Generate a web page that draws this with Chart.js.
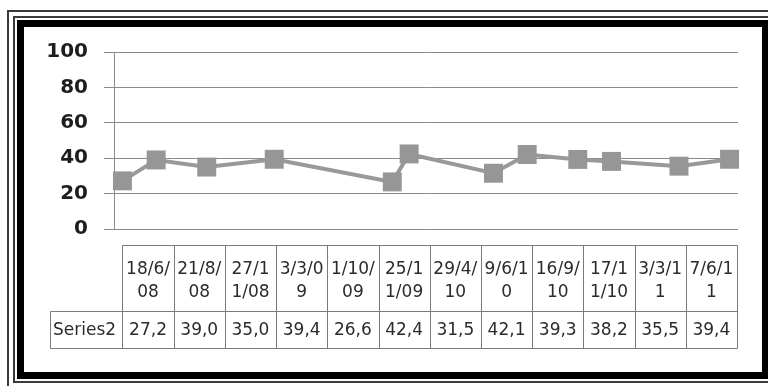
<!DOCTYPE html>
<html><head><meta charset="utf-8">
<script src="https://cdn.jsdelivr.net/npm/chart.js@4/dist/chart.umd.min.js"></script>
<style>
html,body{margin:0;padding:0;background:#fff;width:768px;height:386px;overflow:hidden;position:relative}
.f{position:absolute;box-sizing:border-box}
#a{left:7px;top:10px;right:-20px;bottom:-20px;border:2px solid #3a3a3a}
#b{left:13px;top:16px;right:-20px;bottom:3px;border:2px solid #3a3a3a}
#c{left:17px;top:20px;right:0;bottom:7px;border:7px solid #000;border-right-width:6px;background:#fff}
canvas{position:absolute;left:0;top:0}
</style></head><body>
<div class="f" id="a"></div><div class="f" id="b"></div><div class="f" id="c"></div>
<canvas id="ch" width="768" height="386"></canvas>
<script>
const dateLabels = ['18/6/08','21/8/08','27/11/08','3/3/09','1/10/09','25/11/09','29/4/10','9/6/10','16/9/10','17/11/10','3/3/11','7/6/11'];
const seriesName = 'Series2';
const values = [27.2, 39.0, 35.0, 39.4, 26.6, 42.4, 31.5, 42.1, 39.3, 38.2, 35.5, 39.4];
const yTicks = [0, 20, 40, 60, 80, 100];

// month-based date axis position derived from the date labels
function monthNo(s){ const p = s.split('/'); return (2000 + +p[2]) * 12 + (+p[1] - 1); }
const m0 = monthNo(dateLabels[0]);
const monthIdx = dateLabels.map(d => monthNo(d) - m0);
const lastIdx = monthIdx[monthIdx.length - 1];
const fmt = v => v.toFixed(1).replace('.', ',');

function wrapChars(ctx, text, maxW){
  const lines = []; let cur = '';
  for (const ch of text){
    if (cur && ctx.measureText(cur + ch).width > maxW){ lines.push(cur); cur = ch; }
    else cur += ch;
  }
  if (cur) lines.push(cur);
  return lines;
}

const tablePlugin = {
  id: 'dataTable',
  afterDraw(chart){
    const {ctx, chartArea, scales: {x}} = chart;
    const left = x.getPixelForValue(0);
    const right = chartArea.right - 1;
    const n = dateLabels.length, cw = (right - left) / n;
    const top = chartArea.bottom + 16, h1 = 66, h2 = 37, bottom = top + h1 + h2;
    const labelLeft = 50;
    const px = v => Math.round(v) + 0.5;
    ctx.save();
    ctx.strokeStyle = '#7a7a7a'; ctx.lineWidth = 1;
    ctx.beginPath();
    ctx.moveTo(px(left), px(top)); ctx.lineTo(px(right), px(top));
    ctx.moveTo(px(labelLeft), px(top + h1)); ctx.lineTo(px(right), px(top + h1));
    ctx.moveTo(px(labelLeft), px(bottom)); ctx.lineTo(px(right), px(bottom));
    ctx.moveTo(px(labelLeft), px(top + h1)); ctx.lineTo(px(labelLeft), px(bottom));
    for (let i = 0; i <= n; i++){
      const xx = px(left + i * cw);
      ctx.moveTo(xx, px(top)); ctx.lineTo(xx, px(bottom));
    }
    ctx.stroke();
    ctx.fillStyle = '#2b2b2b';
    ctx.font = '17px "DejaVu Sans"';
    ctx.textBaseline = 'middle';
    ctx.textAlign = 'center';
    const lh = 23.5;
    dateLabels.forEach((d, i) => {
      const cx = left + (i + 0.5) * cw;
      const lines = wrapChars(ctx, d, cw - 6);
      const c0 = top + h1 / 2 + 3 - (lines.length - 1) * lh / 2;
      lines.forEach((l, j) => ctx.fillText(l, cx, c0 + j * lh));
      ctx.fillText(fmt(values[i]), cx, top + h1 + h2 / 2 + 1);
    });
    ctx.textAlign = 'left';
    ctx.fillText(seriesName, labelLeft + 3, top + h1 + h2 / 2 + 1);
    ctx.restore();
  }
};

new Chart(document.getElementById('ch'), {
  type: 'line',
  data: {
    datasets: [{
      label: seriesName,
      data: values.map((v, i) => ({x: monthIdx[i], y: v})),
      borderColor: '#999999',
      backgroundColor: '#969696',
      borderWidth: 4,
      pointStyle: 'rect',
      pointRadius: 13.4,
      pointBorderWidth: 0,
      pointBackgroundColor: '#969696',
      tension: 0,
      clip: false
    }]
  },
  options: {
    responsive: false,
    animation: false,
    plugins: {legend: {display: false}, tooltip: {enabled: false}},
    layout: {padding: {left: 0, top: 52, right: 30, bottom: 157}},
    scales: {
      x: {type: 'linear', min: -0.5, max: lastIdx + 0.5, display: false},
      y: {
        min: 0, max: 100,
        afterBuildTicks: s => { s.ticks = yTicks.map(v => ({value: v})); },
        afterFit: s => { s.width = 114; },
        ticks: {padding: 16, color: '#1e1e1e', font: {family: 'DejaVu Sans', weight: 'bold', size: 20}},
        grid: {color: '#8a8a8a', tickLength: 10, drawTicks: true},
        border: {display: true, color: '#8a8a8a'}
      }
    }
  },
  plugins: [tablePlugin]
});
</script>
</body></html>
